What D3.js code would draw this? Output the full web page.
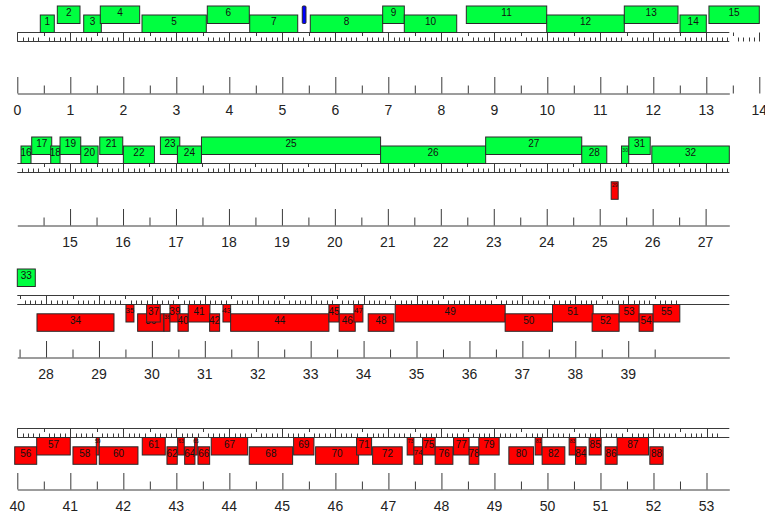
<!DOCTYPE html>
<html><head><meta charset="utf-8">
<script src="https://cdn.jsdelivr.net/npm/d3@7"></script>
<style>body{margin:0;background:#fff}svg{display:block}</style>
</head><body><svg id="c" width="765" height="515"></svg>
<script>
// ---- data (kb) ----
const rowStarts = [0, 14.004, 27.457, 40];
const rowEnds = [13.434, 27.447, 40.91, 53.43];
const rowTickEnds = [14, 27.4, 39.9, 53.2];

const geneLabels = ["1","2","3","4","5","6","7","8","9","10","11","12","13","14","15",
  "16","17","18","19","20","21","22","23","24","25","26","27","28","29","30","31","32",
  "33","34","35","36","37","38","39","40","41","42","43","44","45","46","47","48","49","50",
  "51","52","53","54","55",
  "56","57","58","59","60","61","62","63","64","65","66","67","68","69","70","71","72",
  "73","74","75","76","77","78","79","80","81","82","83","84","85","86","87","88"];
const geneStarts = [0.434,0.755,1.253,1.566,2.353,3.585,4.385,5.528,6.894,7.302,8.472,9.989,11.453,12.504,13.05,
  14.074,14.276,14.635,14.811,15.202,15.561,16.007,16.706,17.027,17.481,20.863,22.847,24.661,25.217,25.412,25.549,25.984,
  27.457,27.829,29.510,29.731,29.901,30.228,30.341,30.492,30.687,31.091,31.343,31.488,33.345,33.539,33.817,34.087,34.597,36.675,
  37.570,38.318,38.828,39.206,39.471,
  39.951,40.366,41.050,41.490,41.546,42.357,42.823,43.025,43.157,43.345,43.408,43.658,44.375,45.212,45.627,46.400,46.702,
  47.354,47.481,47.645,47.882,48.229,48.523,48.706,49.272,49.768,49.900,50.409,50.530,50.786,51.088,51.314,51.931];
const geneEnds = [0.698,1.183,1.585,2.309,3.566,4.377,5.291,6.894,7.302,8.291,9.989,11.453,12.466,13.0,14.0,
  14.263,14.654,14.811,15.202,15.529,15.995,16.593,17.072,17.481,20.863,22.847,24.661,25.134,25.349,25.549,25.954,27.447,
  27.797,29.284,29.661,30.228,30.158,30.341,30.530,30.687,31.097,31.280,31.488,33.345,33.539,33.842,33.987,34.573,36.675,37.570,
  38.337,38.828,39.206,39.471,39.975,
  40.366,40.999,41.497,41.546,42.276,42.791,43.017,43.149,43.351,43.394,43.628,44.345,45.193,45.595,46.438,46.683,47.260,
  47.481,47.645,47.882,48.216,48.523,48.706,49.089,49.738,49.894,50.328,50.535,50.730,51.013,51.314,51.907,52.182];
const geneStrands = ["+","+","+","+","+","+","+","+","+","+","+","+","+","+","+",
  "+","+","+","+","+","+","+","+","+","+","+","+","+","-","+","+","+",
  "+","-","-","-","-","-","-","-","-","-","-","-","-","-","-","-","-","-",
  "-","-","-","-","-",
  "-","-","-","-","-","-","-","-","-","-","-","-","-","-","-","-","-",
  "-","-","-","-","-","-","-","-","-","-","-","-","-","-","-","-"];
const geneTiers = [1,2,1,2,1,2,1,1,2,1,2,1,2,1,2,
  1,2,1,2,1,2,1,2,1,2,1,2,1,2,1,2,1,
  2,2,1,2,1,2,1,2,1,2,1,2,1,2,1,2,1,2,
  1,2,1,2,1,
  2,1,2,1,2,1,2,1,2,1,2,1,2,1,2,1,2,
  1,2,1,2,1,2,1,2,1,2,1,2,1,2,1,2];
const geneRows = [0,0,0,0,0,0,0,0,0,0,0,0,0,0,0,
  1,1,1,1,1,1,1,1,1,1,1,1,1,1,1,1,1,
  2,2,2,2,2,2,2,2,2,2,2,2,2,2,2,2,2,2,
  2,2,2,2,2,
  3,3,3,3,3,3,3,3,3,3,3,3,3,3,3,3,3,
  3,3,3,3,3,3,3,3,3,3,3,3,3,3,3,3];

const otherStarts = [5.377];
const otherEnds = [5.447];
const otherStrands = ["+"];
const otherTiers = [2];
const otherRows = [0];

// ---- layout ----
const svg = d3.select("#c");
const X0 = 17.3, X1 = 729.3;
const stripTops = [32.5, 163.5, 295.5, 428.5];
const axisYs = [93.5, 225.5, 357.5, 489.5];
const stripH = 9, boxH = 17.5;
const lineCol = "#3a3a3a";
const font = "'Liberation Sans', Arial, sans-serif";

const scales = rowStarts.map((s, r) => d3.scaleLinear().domain([s, rowEnds[r]]).range([X0, X1]));

function boxY(r, strand, tier) {
  const t = stripTops[r];
  if (strand === "+") return tier === 1 ? t - boxH : t - 26.5;
  return tier === 1 ? t + stripH : t + stripH + 9.3;
}

rowStarts.forEach((s, r) => {
  const x = scales[r];
  const g = svg.append("g");
  const t = stripTops[r];
  // ruler strip
  g.append("line").attr("x1", x(s)).attr("x2", x(rowEnds[r])).attr("y1", t).attr("y2", t).attr("stroke", lineCol);
  g.append("line").attr("x1", x(s)).attr("x2", x(rowEnds[r])).attr("y1", t + stripH).attr("y2", t + stripH).attr("stroke", lineCol);
  const tenths = d3.range(Math.ceil(s * 10 - 1e-6), Math.round(rowTickEnds[r] * 10) + 1);
  tenths.forEach(i => {
    const px = Math.round(x(i / 10)) + 0.5;
    let y1, y2;
    if (i % 10 === 0) { y1 = t; y2 = t + stripH; }
    else if (i % 5 === 0) { y1 = t; y2 = t + 3.5; }
    else { y1 = t + stripH - 4; y2 = t + stripH; }
    g.append("line").attr("x1", px).attr("x2", px).attr("y1", y1).attr("y2", y2).attr("stroke", lineCol);
  });
  // lower axis
  const ay = axisYs[r];
  const majors = tenths.filter(i => i % 10 === 0).map(i => i / 10);
  const halves = tenths.filter(i => i % 10 === 5).map(i => i / 10);
  const axMaj = d3.axisTop(x).tickValues(majors).tickSize(16.5).tickSizeOuter(0).tickFormat("");
  const axHalf = d3.axisTop(x).tickValues(halves).tickSize(8).tickSizeOuter(0).tickFormat("");
  svg.append("g").attr("transform", `translate(0,${ay})`).attr("color", lineCol).call(axMaj);
  const gh = svg.append("g").attr("transform", `translate(0,${ay})`).attr("color", lineCol).call(axHalf);
  gh.select(".domain").remove();
  svg.append("g").selectAll("text").data(majors).join("text")
    .attr("x", d => x(d)).attr("y", ay + 21.5)
    .attr("text-anchor", "middle").attr("font-family", font).attr("font-size", 14).attr("fill", "#222")
    .text(d => d3.format("d")(d));
});

// genes
const gGenes = svg.append("g");
geneLabels.forEach((lab, i) => {
  const r = geneRows[i], x = scales[r];
  const x1 = x(geneStarts[i]), x2 = x(geneEnds[i]);
  const y = boxY(r, geneStrands[i], geneTiers[i]);
  const w = x2 - x1;
  const g = gGenes.append("g");
  g.append("rect").attr("x", x1).attr("y", y).attr("width", w).attr("height", boxH)
    .attr("fill", geneStrands[i] === "+" ? "#00ff40" : "#ff0000")
    .attr("stroke", "#2a2a2a").attr("stroke-width", 1);
  const fs = w >= 9 ? 10 : (w >= 7.5 ? 8 : 5);
  g.append("text").attr("x", (x1 + x2) / 2).attr("y", y + fs * 0.9 + 1)
    .attr("text-anchor", "middle").attr("font-family", font).attr("font-size", fs).attr("fill", "#111")
    .text(lab);
});

// other feature
otherStarts.forEach((s, i) => {
  const r = otherRows[i], x = scales[r];
  const x1 = x(s), x2 = x(otherEnds[i]);
  const y = boxY(r, otherStrands[i], otherTiers[i]);
  svg.append("rect").attr("x", x1).attr("y", y).attr("width", x2 - x1).attr("height", boxH)
    .attr("fill", "#0000ff").attr("stroke", "#2a2a2a").attr("rx", 1);
});
</script></body></html>
